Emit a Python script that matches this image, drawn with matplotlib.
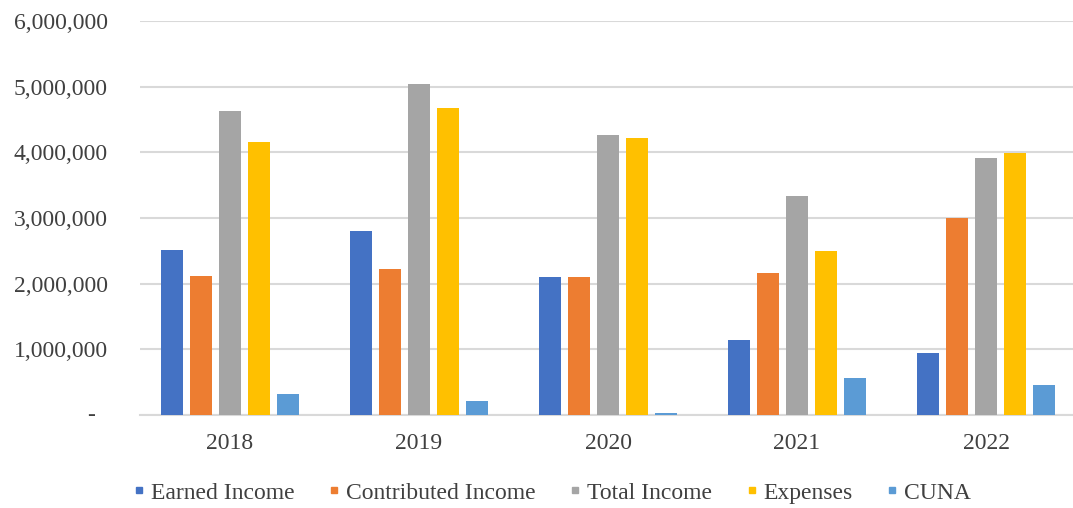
import matplotlib
matplotlib.use("Agg")
import matplotlib.pyplot as plt
import matplotlib.transforms as mtransforms
from matplotlib.lines import Line2D
from matplotlib.ticker import FuncFormatter
import numpy as np

years = ["2018", "2019", "2020", "2021", "2022"]
series_names = ["Earned Income", "Contributed Income", "Total Income", "Expenses", "CUNA"]
earned_income = [2510000, 2800000, 2100000, 1140000, 940000]
contributed_income = [2110000, 2220000, 2100000, 2160000, 3000000]
total_income = [4630000, 5040000, 4270000, 3340000, 3920000]
expenses = [4160000, 4680000, 4220000, 2490000, 3990000]
cuna = [320000, 210000, 30000, 570000, 450000]
colors = ["#4472C4", "#ED7D31", "#A5A5A5", "#FFC000", "#5B9BD5"]

plt.rcParams["font.family"] = ["Liberation Serif", "DejaVu Serif"]
text_color = "#404040"

fig = plt.figure(figsize=(10.73, 5.08), dpi=100)
ax = fig.add_axes([140 / 1073, 93 / 508, 933 / 1073, 394 / 508])

values = [earned_income, contributed_income, total_income, expenses, cuna]
x = np.arange(len(years))
bar_w = 0.116
step = 0.154
for i, (vals, col) in enumerate(zip(values, colors)):
    offset = (i - 2) * step
    ax.bar(x + offset, vals, width=bar_w, color=col, zorder=3)

ax.set_ylim(0, 6000000)
ax.set_xlim(-0.476, 4.46)
ax.set_yticks(np.arange(0, 6000001, 1000000))
ax.yaxis.set_major_formatter(FuncFormatter(lambda v, p: "" if v == 0 else f"{int(v):,}"))
ax.grid(axis="y", color="#D9D9D9", linewidth=1.5, zorder=0)
ax.set_axisbelow(True)
for s in ["top", "right", "left"]:
    ax.spines[s].set_visible(False)
ax.spines["bottom"].set_color("#D9D9D9")
ax.spines["bottom"].set_linewidth(1.5)

ax.set_xticks(x)
ax.set_xticklabels(years)
ax.tick_params(axis="both", length=0, labelsize=17, labelcolor=text_color)
ax.tick_params(axis="y", pad=23)
ax.tick_params(axis="x", pad=13)

# Zero shown as a dash, accounting style
trans = mtransforms.blended_transform_factory(ax.transAxes, ax.transData)
ax.text(-49 / 933, 0, "-", transform=trans, ha="center", va="center",
        fontsize=17, color=text_color)

handles = [Line2D([0], [0], marker="s", linestyle="none", markersize=5,
                  markerfacecolor=c, markeredgecolor=c) for c in colors]
fig.legend(handles, series_names, loc="center", bbox_to_anchor=(0.515, 0.03),
           ncol=5, frameon=False, fontsize=17, labelcolor=text_color,
           handlelength=0.4, handletextpad=0.3, columnspacing=1.48,
           borderaxespad=0, borderpad=0)

fig.savefig("out.png", dpi=100)
